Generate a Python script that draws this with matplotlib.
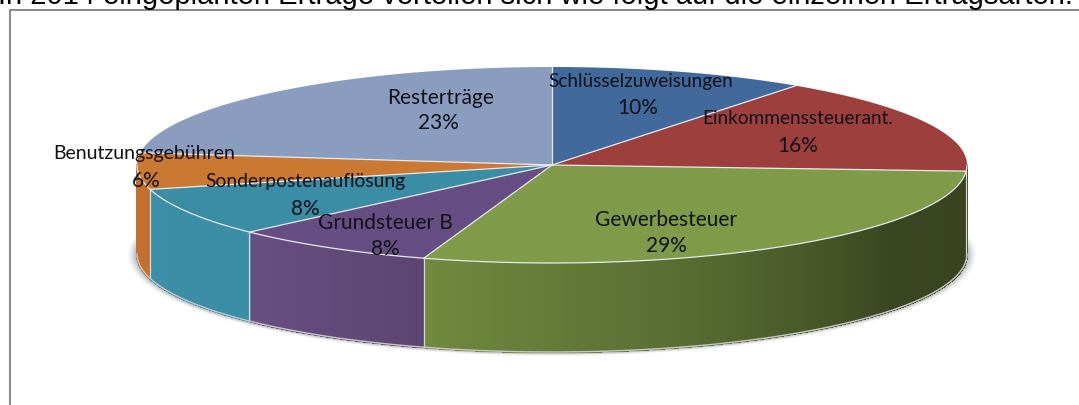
#!/usr/bin/env python3
"""3D-Kreisdiagramm der Ertragsarten, Scheibe von Hand projiziert."""
import numpy as np
import matplotlib
matplotlib.use("Agg")
import matplotlib.pyplot as plt
from matplotlib.colors import to_rgb
from matplotlib.patches import Polygon

categories = [
    "Schlüsselzuweisungen",
    "Einkommenssteuerant.",
    "Gewerbesteuer",
    "Grundsteuer B",
    "Sonderpostenauflösung",
    "Benutzungsgebühren",
    "Resterträge",
]
values = [10, 16, 29, 8, 8, 6, 23]

W, H = 1079, 405
CX, CY = 552, 165
RX, RY = 415, 98
DEPTH = 89

TOP_COLORS = ["#41699b", "#9d403d", "#7f9a48", "#664e83", "#3b8ca5", "#cb7833", "#8a9dbf"]
# Seitenwand: (Anteil in der Scheibe, Farbe)
WALL_STOPS = [
    [(0, "#2f4a6e"), (1, "#2f4a6e")],
    [(0, "#3a4420"), (1, "#3a4420")],
    [(0, "#38421f"), (0.30, "#3a4521"), (0.62, "#566a30"), (1, "#71893f")],
    [(0, "#5b4670"), (1, "#674f82")],
    [(0, "#3b8ca5"), (1, "#3d8fa8")],
    [(0, "#c2702f"), (1, "#c2702f")],
    [(0, "#8a9dbf"), (1, "#8a9dbf")],
]
LABEL_POS = [(641, 81), (798, 119), (666, 220), (385, 223), (305, 182), (144, 153), (441, 98)]
PCT_POS = [(638, 108), (798, 146), (666, 246), (385, 249), (305, 209), (146, 181), (438, 123)]
LABEL_SIZE = [13.7, 13.7, 15, 15, 13.9, 14, 15]
LABEL_COLOR = "#111118"


def rim(theta):
    return CX + RX * np.sin(theta), CY - RY * np.cos(theta)


def main():
    plt.rcParams["font.family"] = ["Lato", "DejaVu Sans"]
    fig = plt.figure(figsize=(W / 100, H / 100), dpi=100)
    ax = fig.add_axes([0, 0, 1, 1])
    ax.set_xlim(0, W)
    ax.set_ylim(H, 0)
    ax.axis("off")

    # Rahmen
    ax.plot([10, 10, W], [H, 10, 10], color="#8c8c8c", lw=1.5, solid_joinstyle="miter")

    ax.text(-2, 4.5, "In 2014 eingeplanten Erträge verteilen sich wie folgt auf die einzelnen Ertragsarten.",
            family="Liberation Sans", fontsize=21, color="black", va="baseline", ha="left")

    # weicher Schatten unter der Scheibe
    t = np.linspace(0, 2 * np.pi, 300)
    for grow, alpha in zip([9, 7, 5, 3, 1], [0.05, 0.07, 0.10, 0.14, 0.22]):
        xs = CX + (RX + grow) * np.sin(t)
        ys = CY + DEPTH + 1 - (RY + grow * 0.3) * np.cos(t)
        ax.add_patch(Polygon(np.c_[xs, ys], closed=True, fc="#555555", ec="none", alpha=alpha))

    edges = np.radians(np.cumsum([0] + values) * 3.6)

    # Seitenwand: nur der vordere Teil (90 bis 270 Grad)
    for i in range(len(values)):
        a = max(edges[i], np.pi / 2)
        b = min(edges[i + 1], 3 * np.pi / 2)
        if b <= a:
            continue
        stops = WALL_STOPS[i]
        pos = [s[0] for s in stops]
        rgb = np.array([to_rgb(s[1]) for s in stops])
        n = max(int(np.degrees(b - a) * 3), 2)
        th = np.linspace(a, b, n + 1)
        for j in range(n):
            frac = (j + 0.5) / n
            col = [np.interp(frac, pos, rgb[:, k]) for k in range(3)]
            x0, y0 = rim(th[j])
            x1, y1 = rim(th[j + 1])
            ax.add_patch(Polygon([(x0, y0), (x1, y1), (x1, y1 + DEPTH), (x0, y0 + DEPTH)],
                                 closed=True, fc=col, ec=col, lw=1.0, antialiased=False))
        # senkrechte Kante
        xb, yb = rim(a)
        if edges[i] >= np.pi / 2 and i != 1:
            ax.plot([xb, xb], [yb, yb + DEPTH], color="#d5d8dc", lw=0.9)
    th = np.linspace(np.pi / 2, 3 * np.pi / 2, 200)
    xs, ys = rim(th)
    ax.plot(xs, ys + DEPTH, color="#c8c8c8", lw=1.0)

    # Oberseite
    for i in range(len(values)):
        th = np.linspace(edges[i], edges[i + 1], 120)
        xs, ys = rim(th)
        pts = np.r_[[(CX, CY)], np.c_[xs, ys]]
        ax.add_patch(Polygon(pts, closed=True, fc=TOP_COLORS[i], ec="none"))
        ax.plot([CX, xs[0]], [CY, ys[0]], color="#e6e9ee", lw=0.9)
    # Vorderkante der Oberseite
    th = np.linspace(np.pi / 2, 3 * np.pi / 2, 200)
    xs, ys = rim(th)
    ax.plot(xs, ys, color="#e6e9ee", lw=0.9)

    for i, name in enumerate(categories):
        ax.text(*LABEL_POS[i], name, fontsize=LABEL_SIZE[i], color=LABEL_COLOR, ha="center", va="center")
        ax.text(*PCT_POS[i], f"{values[i]}%", fontsize=15, color=LABEL_COLOR, ha="center", va="center")

    fig.savefig("out.png", dpi=100)


if __name__ == "__main__":
    main()
